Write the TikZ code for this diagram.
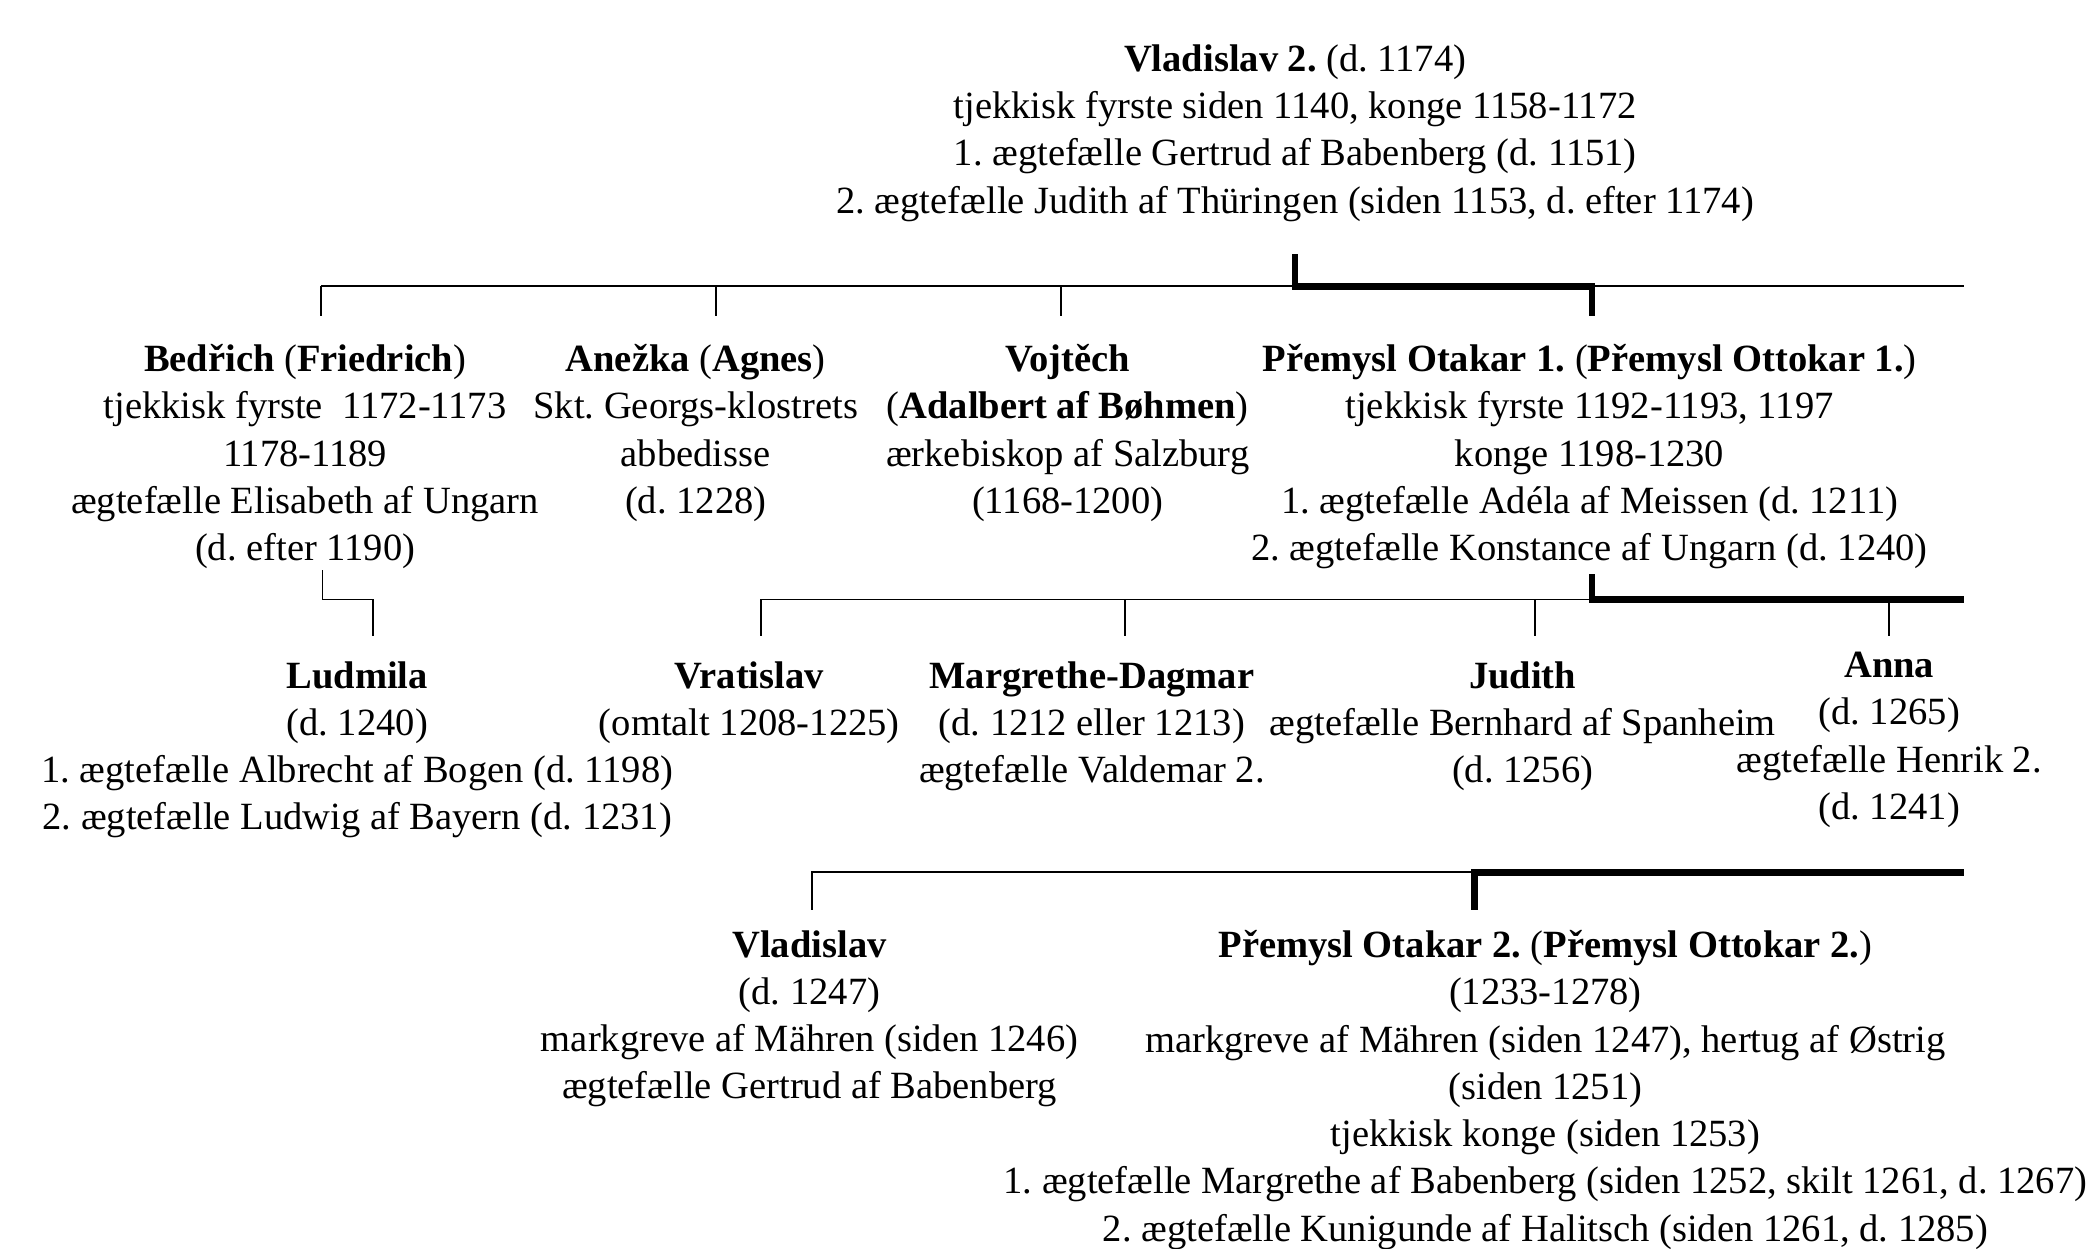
\documentclass[tikz,border=0pt]{standalone}
\usepackage{fontspec}
\setmainfont{Liberation Serif}
\usepackage{tikz}
\frenchspacing
\tikzstyle{person} = [align=center, anchor=north, inner sep=0pt,
  font=\fontsize{14.4}{17.65}\selectfont]
\tikzstyle{line} = [draw, line width=0.7pt]
\tikzstyle{mainline} = [draw, line width=2.4pt]

\begin{document}
\begin{tikzpicture}[x=0.5pt, y=-0.5pt]
    \useasboundingbox (0,0) rectangle (1568,933);

    \node[person] (vladislav2) at (968,33) {\textbf{Vladislav 2.} (d. 1174)\\
      tjekkisk fyrste siden 1140, konge 1158-1172\\
      1. ægtefælle Gertrud af Babenberg (d. 1151)\\
      2. ægtefælle Judith af Thüringen (siden 1153, d. efter 1174)};

    \node[person] (bedrich) at (228,257) {\textbf{Bedřich} (\textbf{Friedrich})\\
      tjekkisk fyrste\ \ 1172-1173\\ 1178-1189\\
      ægtefælle Elisabeth af Ungarn\\ (d. efter 1190)};
    \node[person] (anezka) at (520,257) {\textbf{Anežka} (\textbf{Agnes})\\
      Skt. Georgs-klostrets\\ abbedisse\\ (d. 1228)};
    \node[person] (vojtech) at (798,257) {\textbf{Vojtěch}\\
      (\textbf{Adalbert af Bøhmen})\\ ærkebiskop af Salzburg\\ (1168-1200)};
    \node[person] (otakar1) at (1188,257) {\textbf{Přemysl Otakar 1.} (\textbf{Přemysl Ottokar 1.})\\
      tjekkisk fyrste 1192-1193, 1197\\ konge 1198-1230\\
      1. ægtefælle Adéla af Meissen (d. 1211)\\
      2. ægtefælle Konstance af Ungarn (d. 1240)};

    \node[person] (ludmila) at (267,494) {\textbf{Ludmila}\\ (d. 1240)\\
      1. ægtefælle Albrecht af Bogen (d. 1198)\\
      2. ægtefælle Ludwig af Bayern (d. 1231)};
    \node[person] (vratislav) at (560,494) {\textbf{Vratislav}\\ (omtalt 1208-1225)};
    \node[person] (dagmar) at (816,494) {\textbf{Margrethe-Dagmar}\\
      (d. 1212 eller 1213)\\ ægtefælle Valdemar 2.};
    \node[person] (judith) at (1138,494) {\textbf{Judith}\\
      ægtefælle Bernhard af Spanheim\\ (d. 1256)};
    \node[person] (anna) at (1412,487) {\textbf{Anna}\\ (d. 1265)\\
      ægtefælle Henrik 2.\\ (d. 1241)};

    \node[person] (vladislav) at (605,695) {\textbf{Vladislav}\\ (d. 1247)\\
      markgreve af Mähren (siden 1246)\\ ægtefælle Gertrud af Babenberg};
    \node[person] (otakar2) at (1155,695) {\textbf{Přemysl Otakar 2.} (\textbf{Přemysl Ottokar 2.})\\
      (1233-1278)\\ markgreve af Mähren (siden 1247), hertug af Østrig\\
      (siden 1251)\\ tjekkisk konge (siden 1253)\\
      1. ægtefælle Margrethe af Babenberg (siden 1252, skilt 1261, d. 1267)\\
      2. ægtefælle Kunigunde af Halitsch (siden 1261, d. 1285)};

    % children of Vladislav 2.
    \coordinate (bar1w) at (240,214);
    \coordinate (bar1e) at (1468,214);
    \path[line] (bar1w) -- (bar1e);
    \path[line] (bar1w) -- (240,236);
    \path[line] (535,214) -- (535,236);
    \path[line] (793,214) -- (793,236);
    \path[mainline] (968,190) |- (1190,214) -- (1190,236);

    % Bedrich -> Ludmila
    \path[line] (241,426) |- (279,448) -- (279,475);

    % children of Premysl Otakar 1.
    \coordinate (bar2w) at (569,448);
    \coordinate (bar2e) at (1468,448);
    \path[line] (bar2w) -- (1190,448);
    \path[line] (bar2w) -- (569,475);
    \path[line] (841,448) -- (841,475);
    \path[line] (1147,448) -- (1147,475);
    \path[line] (1412,448) -- (1412,475);
    \path[mainline] (1190,429) |- (bar2e);

    % children of Vaclav 1.
    \coordinate (bar3e) at (1468,652);
    \path[line] (607,680) |- (1102,652);
    \path[mainline] (1102,680) |- (bar3e);
\end{tikzpicture}
\end{document}
